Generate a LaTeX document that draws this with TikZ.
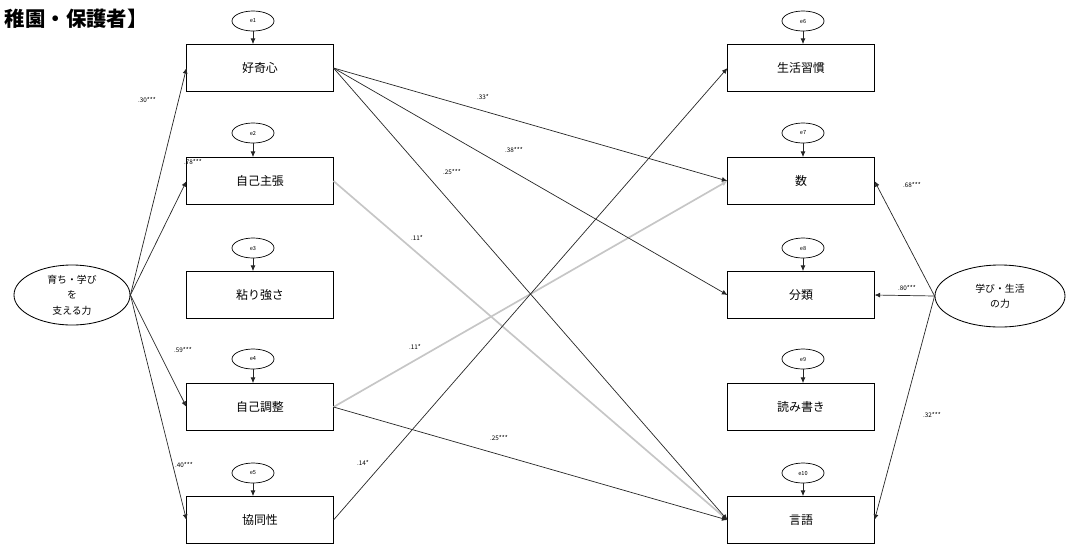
\documentclass[tikz,border=0pt]{standalone}
\usepackage{fontspec}
\setmainfont{Noto Sans CJK JP}
\usetikzlibrary{arrows.meta,shapes.geometric}

\begin{document}
\begin{tikzpicture}[x=0.025cm, y=-0.025cm,
    obs/.style={draw, line width=0.7pt, minimum width=3.65cm, minimum height=1.17cm,
      inner sep=0pt, font=\fontsize{8.5}{10}\selectfont},
    err/.style={draw, ellipse, line width=0.5pt, minimum width=1.05cm, minimum height=0.5cm,
      inner sep=0pt, font=\fontsize{4}{5}\selectfont},
    lat/.style={draw, ellipse, line width=0.6pt, inner sep=0pt, align=center,
      font=\fontsize{7}{11}\selectfont},
    eff/.style={-{Latex[length=4pt,width=3.5pt]}, line width=0.5pt, black!85},
    weak/.style={eff, gray!45, line width=1.2pt},
    lbl/.style={inner sep=0pt, font=\fontsize{4.5}{5}\selectfont}]
  \useasboundingbox (0,0) rectangle (1067,548);

  \node[anchor=west, font=\bfseries\fontsize{14.5}{16}\selectfont] (title) at (0,19) {稚園・保護者】};

  % left side
  \node[lat, minimum width=2.9cm, minimum height=1.5cm] (lat1) at (72,295) {育ち・学び\\を\\支える力};
  \node[obs] (b1) at (260,68) {好奇心};
  \node[obs] (b2) at (260,181) {自己主張};
  \node[obs] (b3) at (260,295) {粘り強さ};
  \node[obs] (b4) at (260,407) {自己調整};
  \node[obs] (b5) at (260,520) {協同性};
  \node[err] (e1) at (253,21) {e1};
  \node[err] (e2) at (253,133) {e2};
  \node[err] (e3) at (253,248) {e3};
  \node[err] (e4) at (253,359) {e4};
  \node[err] (e5) at (253,473) {e5};

  % right side
  \node[lat, minimum width=3.25cm, minimum height=1.55cm] (lat2) at (1000,296) {学び・生活\\の力};
  \node[obs] (r1) at (801,68) {生活習慣};
  \node[obs] (r2) at (801,181) {数};
  \node[obs] (r3) at (801,295) {分類};
  \node[obs] (r4) at (801,407) {読み書き};
  \node[obs] (r5) at (801,520) {言語};
  \node[err] (e6) at (803,21) {e6};
  \node[err] (e7) at (803,133) {e7};
  \node[err] (e8) at (803,248) {e8};
  \node[err] (e9) at (803,359) {e9};
  \node[err] (e10) at (803,473) {e10};

  % errors
  \foreach \e/\b in {e1/b1, e2/b2, e3/b3, e4/b4, e5/b5, e6/r1, e7/r2, e8/r3, e9/r4, e10/r5}
    \draw[eff] (\e.south) -- (\e.south |- \b.north);

  % latent paths
  \draw[eff] (lat1.east) -- (b1.west);
  \draw[eff] (lat1.east) -- (b2.west);
  \draw[eff] (lat1.east) -- (b4.west);
  \draw[eff] (lat1.east) -- (b5.west);
  \draw[eff] (lat2.west) -- (r2.east);
  \draw[eff] (lat2.west) -- (r3.east);
  \draw[eff] (lat2.west) -- (r5.east);

  % cross paths
  \draw[weak] (b2.east) -- (r5.west);
  \draw[weak] (b4.east) -- (r2.west);
  \draw[eff] (b1.east) -- (r2.west);
  \draw[eff] (b1.east) -- (r3.west);
  \draw[eff] (b1.east) -- (r5.west);
  \draw[eff] (b4.east) -- (r5.west);
  \draw[eff] (b5.east) -- (r1.west);

  % coefficients
  \node[lbl] (c1) at (147,100) {.30***};
  \node[lbl] (c2) at (193,162) {.78***};
  \node[lbl] (c3) at (183,350) {.59***};
  \node[lbl] (c4) at (184,465) {.40***};
  \node[lbl] (c5) at (483,97) {.33*};
  \node[lbl] (c6) at (514,150) {.38***};
  \node[lbl] (c7) at (452,172) {.25***};
  \node[lbl] (c8) at (417,238) {.11*};
  \node[lbl] (c9) at (415,347) {.11*};
  \node[lbl] (c10) at (499,438) {.25***};
  \node[lbl] (c11) at (363,463) {.14*};
  \node[lbl] (c12) at (912,185) {.68***};
  \node[lbl] (c13) at (907,288) {.80***};
  \node[lbl] (c14) at (932,415) {.32***};
\end{tikzpicture}
\end{document}
